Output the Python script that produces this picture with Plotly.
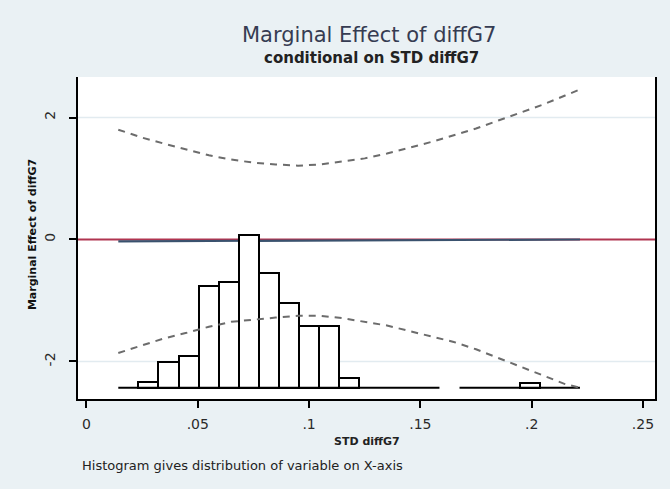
import plotly.graph_objects as go

# ---- data -------------------------------------------------------------
# moderator grid and marginal effect with its 95% confidence bounds
ci_x = [0.0143, 0.025, 0.035, 0.045, 0.055, 0.065, 0.075, 0.085, 0.095, 0.105, 0.115,
        0.125, 0.135, 0.145, 0.155, 0.165, 0.175, 0.185, 0.195, 0.205, 0.215, 0.2217]
ci_upper = [1.80, 1.67, 1.57, 1.47, 1.38, 1.31, 1.26, 1.23, 1.21, 1.23, 1.28,
            1.33, 1.41, 1.50, 1.60, 1.71, 1.82, 1.95, 2.08, 2.21, 2.36, 2.46]
ci_lower = [-1.86, -1.73, -1.62, -1.53, -1.43, -1.35, -1.31, -1.28, -1.25, -1.25, -1.29,
            -1.35, -1.41, -1.50, -1.59, -1.68, -1.80, -1.94, -2.09, -2.23, -2.37, -2.43]
me_x = [0.0143, 0.2217]
me_y = [-0.03, 0.0]

# histogram of STD diffG7 (rescaled heights; None = bin not drawn)
hist_start = 0.0143
hist_width = 0.009017
hist_base = -2.43
hist_height = [0, 0.098, 0.426, 0.525, 1.672, 1.738, 2.503, 1.875, 1.384, 1.011, 1.011,
               0.164, 0, 0, 0, 0, None, 0, 0, 0, 0.072, 0, 0]

x_ticks = [0, 0.05, 0.10, 0.15, 0.20, 0.25]
x_ticklabels = ["0", ".05", ".1", ".15", ".2", ".25"]
y_ticks = [-2, 0, 2]
y_ticklabels = ["-2", "0", "2"]

# ---- styles -----------------------------------------------------------
BG = "#eaf1f4"
GRID = "#e2ebf0"
TICKFONT = dict(family="DejaVu Sans", size=14, color="#2a2a2a")

fig = go.Figure()

# histogram bars (non-empty bins)
bar_x, bar_y = [], []
for i, h in enumerate(hist_height):
    if h:
        bar_x.append(hist_start + (i + 0.5) * hist_width)
        bar_y.append(h)
fig.add_trace(go.Bar(
    x=bar_x, y=bar_y, base=hist_base, width=hist_width,
    marker=dict(color="white", line=dict(color="black", width=2)),
    hoverinfo="skip",
))

# histogram baseline, broken where a bin is absent
base_x, base_y = [], []
run_start = None
for i, h in enumerate(hist_height + [None]):
    if h is not None and run_start is None:
        run_start = i
    elif h is None and run_start is not None:
        base_x += [hist_start + run_start * hist_width, hist_start + i * hist_width, None]
        base_y += [hist_base, hist_base, None]
        run_start = None
fig.add_trace(go.Scatter(x=base_x, y=base_y, mode="lines",
                         line=dict(color="black", width=2), hoverinfo="skip"))

# confidence bounds
for yy in (ci_upper, ci_lower):
    fig.add_trace(go.Scatter(
        x=ci_x, y=yy, mode="lines",
        line=dict(color="#6c6c6c", width=2, dash="7px,6px"),
        hoverinfo="skip",
    ))

# horizontal grid lines at the non-zero y ticks
for yv in y_ticks:
    if yv != 0:
        fig.add_shape(type="line", xref="paper", x0=0, x1=1, yref="y", y0=yv, y1=yv,
                      line=dict(color=GRID, width=1.5), layer="below")

# reference line at zero and the marginal effect line (beneath the bars)
fig.add_shape(type="line", xref="paper", x0=0, x1=1, yref="y", y0=0, y1=0,
              line=dict(color="#b03450", width=2), layer="below")
fig.add_shape(type="line", xref="x", yref="y", x0=me_x[0], y0=me_y[0], x1=me_x[1], y1=me_y[1],
              line=dict(color="#3a526e", width=2.2), layer="below")

fig.update_layout(
    width=670, height=489, autosize=False,
    margin=dict(l=78, r=15, t=77, b=90),
    paper_bgcolor=BG, plot_bgcolor="white",
    showlegend=False, bargap=0,
    xaxis=dict(
        range=[-0.0038, 0.2554], tickvals=x_ticks, ticktext=x_ticklabels,
        showgrid=False, zeroline=False,
        showline=True, linecolor="black", linewidth=2,
        ticks="outside", ticklen=7, tickwidth=2, tickcolor="black",
        tickfont=TICKFONT, ticklabelstandoff=4,
    ),
    yaxis=dict(
        range=[-2.615, 2.664], tickvals=y_ticks, ticktext=y_ticklabels,
        showgrid=False, zeroline=False,
        showline=True, linecolor="black", linewidth=2, mirror=True,
        ticks="outside", ticklen=7, tickwidth=2, tickcolor="black",
        tickfont=TICKFONT, tickangle=-90, ticklabelstandoff=8,
    ),
    annotations=[
        dict(text="Marginal Effect of diffG7", xref="paper", yref="paper",
             x=0.5043, y=1.1304, xanchor="center", yanchor="middle", showarrow=False,
             font=dict(family="DejaVu Sans", size=21, color="#363c52")),
        dict(text="conditional on STD diffG7", xref="paper", yref="paper",
             x=0.5078, y=1.059, xanchor="center", yanchor="middle", showarrow=False,
             font=dict(family="DejaVu Sans", size=15, color="#222222", weight="bold")),
        dict(text="Marginal Effect of diffG7", xref="paper", yref="paper",
             x=-0.0797, y=0.509, xanchor="center", yanchor="middle", showarrow=False,
             textangle=-90,
             font=dict(family="DejaVu Sans", size=11, color="#111111", weight="bold")),
        dict(text="STD diffG7", xref="paper", yref="paper",
             x=0.5009, y=-0.1335, xanchor="center", yanchor="middle", showarrow=False,
             font=dict(family="DejaVu Sans", size=11, color="#222222", weight="bold")),
        dict(text="Histogram gives distribution of variable on X-axis", xref="paper", yref="paper",
             x=0.0026, y=-0.205, xanchor="left", yanchor="middle", showarrow=False,
             font=dict(family="DejaVu Sans", size=13, color="#222222")),
    ],
)

fig.write_html("out.html")
